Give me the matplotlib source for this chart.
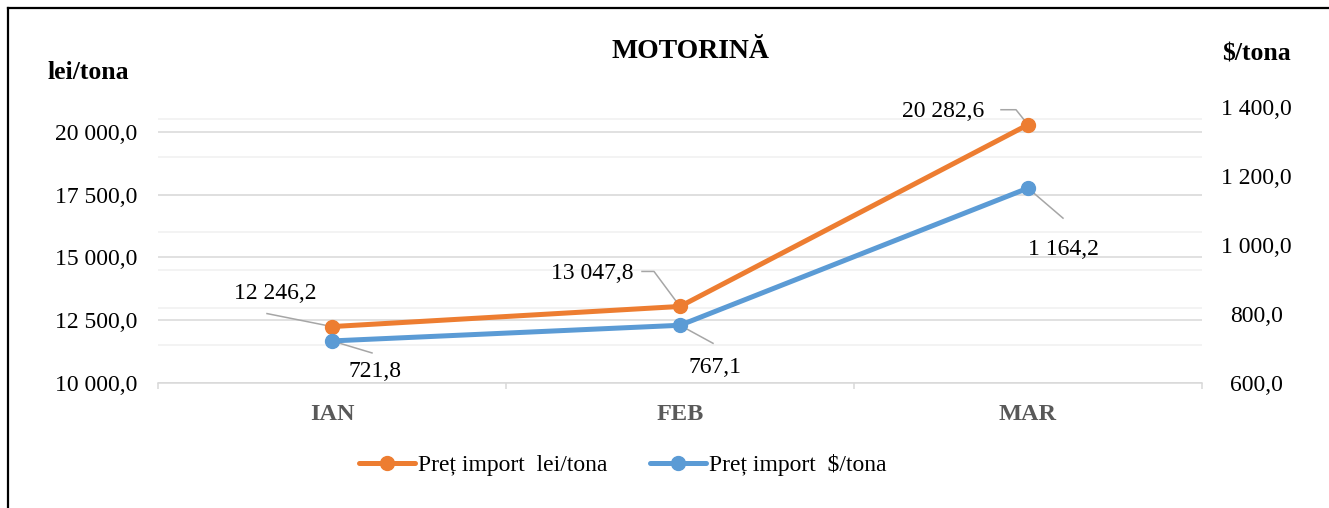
import matplotlib
matplotlib.use("Agg")
import matplotlib.pyplot as plt
from matplotlib.lines import Line2D
import numpy as np

plt.rcParams['font.family'] = ['Liberation Serif', 'DejaVu Serif']

# data
months = ['IAN', 'FEB', 'MAR']
pret_lei = [12246.2, 13047.8, 20282.6]   # lei/tona, left axis
pret_usd = [721.8, 767.1, 1164.2]        # $/tona, right axis
lei_ticks = [10000, 12500, 15000, 17500, 20000]
usd_ticks = [600, 800, 1000, 1200, 1400]

ORANGE = '#ED7D31'
BLUE = '#5B9BD5'
GRID = '#d9d9d9'
LEADER = '#a6a6a6'

W, H = 1329, 508


def fmt(v):
    return f"{v:,.1f}".replace(",", " ").replace(".", ",")


fig = plt.figure(figsize=(W / 100, H / 100), dpi=100)
ax = fig.add_axes([158 / W, 1 - 383 / H, (1202 - 158) / W, (383 - 106.7) / H])
ax2 = ax.twinx()

x = np.arange(len(months))
ax.set_xlim(-0.5, len(months) - 0.5)
ax.set_ylim(10000, 21000)
ax2.set_ylim(600, 1400)

# light secondary grid, then the main one
for yv in np.arange(11500, 21000, 1500):
    ax.axhline(yv, color='#f0f0f0', lw=1.1, zorder=0)
ax.set_yticks(lei_ticks)
ax.yaxis.grid(True, color=GRID, lw=1.1, zorder=0)
ax.set_axisbelow(True)

for a in (ax, ax2):
    for s in a.spines.values():
        s.set_visible(False)
ax.spines['bottom'].set_visible(True)
ax.spines['bottom'].set_color(GRID)
ax.spines['bottom'].set_linewidth(1.1)

ax.set_yticklabels([fmt(v) for v in lei_ticks], fontsize=17)
ax.tick_params(axis='y', length=0, pad=15)
ax2.set_yticks(usd_ticks)
ax2.set_yticklabels([fmt(v) for v in usd_ticks], fontsize=17)
ax2.tick_params(axis='y', length=0, pad=39)
for lab in ax2.get_yticklabels():
    lab.set_horizontalalignment('center')

ax.set_xticks(x)
ax.set_xticklabels(months, fontsize=17.5, fontweight='bold', color='#595959')
ax.set_xticks(np.arange(-0.5, len(months), 1.0), minor=True)
ax.tick_params(axis='x', which='major', length=0, pad=15)
ax.tick_params(axis='x', which='minor', length=4.3, width=1.1, color=GRID, direction='out')

l1, = ax.plot(x, pret_lei, color=ORANGE, lw=3.6, marker='o', ms=10,
              solid_capstyle='round', zorder=3, label='Preț import  lei/tona')
l2, = ax2.plot(x, pret_usd, color=BLUE, lw=3.6, marker='o', ms=10,
               solid_capstyle='round', zorder=3, label='Preț import  $/tona')

# label offsets (screen px, y down) and leader polylines relative to the point
lei_text_off = [(-57, -33), (-88, -33), (-85, -13)]
usd_text_off = [(43, 31), (35, 42), (35, 61)]
lei_leaders = [[(-65, -13), (0, 0)],
               [(-38, -35), (-26, -35), (0, 0)],
               [(-27, -15), (-12, -15), (0, 0)]]
usd_leaders = [[(0, 0), (40, 12)],
               [(0, 0), (33, 18)],
               [(0, 0), (35, 30)]]


def label(a, xs, ys, offs, leaders):
    for xi, yi, (dx, dy), lead in zip(xs, ys, offs, leaders):
        px, py = a.transData.transform((xi, yi))
        pts = [(px + lx, py - ly) for lx, ly in lead]
        data = a.transData.inverted().transform(pts)
        a.plot(data[:, 0], data[:, 1], color=LEADER, lw=1.1, zorder=2, clip_on=False)
        a.annotate(fmt(yi), (xi, yi), xytext=(dx, -dy), textcoords='offset pixels',
                   ha='center', va='center', fontsize=17, zorder=4)


label(ax, x, pret_lei, lei_text_off, lei_leaders)
label(ax2, x, pret_usd, usd_text_off, usd_leaders)

fig.text(690 / W, 1 - 51 / H, 'MOTORINĂ', ha='center', va='center',
         fontsize=20, fontweight='bold')
fig.text(48 / W, 1 - 79 / H, 'lei/tona', ha='left', va='baseline',
         fontsize=18.5, fontweight='bold')
fig.text(1256 / W, 1 - 60 / H, '$/tona', ha='center', va='baseline',
         fontsize=18.5, fontweight='bold')

fig.legend(handles=[l1, l2], loc='center', bbox_to_anchor=(623 / W, 1 - 465 / H),
           ncol=2, frameon=False, fontsize=17, handlelength=2.35,
           handletextpad=0.15, columnspacing=1.8)

# frame of the chart box (top and left visible)
fig.add_artist(Line2D([8 / W, 1], [1 - 8 / H, 1 - 8 / H], color='black', lw=1.6,
                      transform=fig.transFigure))
fig.add_artist(Line2D([8 / W, 8 / W], [0, 1 - 8 / H], color='black', lw=1.6,
                      transform=fig.transFigure))

fig.savefig('out.png', dpi=100)
